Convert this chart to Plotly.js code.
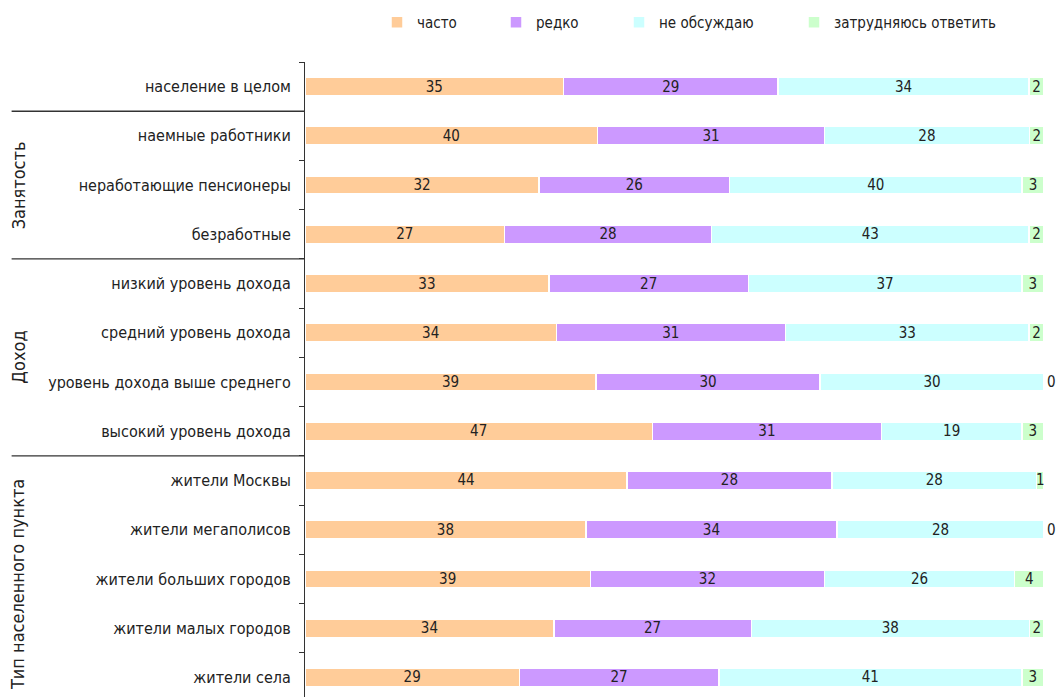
<!DOCTYPE html>
<html>
<head>
<meta charset="utf-8">
<script src="https://cdn.plot.ly/plotly-3.0.1.min.js"></script>
<style>
html,body{margin:0;padding:0;overflow:hidden;background:#fff;}
#chart{width:1056px;height:710px;}
</style>
</head>
<body>
<div id="chart"></div>
<script>
const categories = [
  "население в целом",
  "наемные работники",
  "неработающие пенсионеры",
  "безработные",
  "низкий уровень дохода",
  "средний уровень дохода",
  "уровень дохода выше среднего",
  "высокий уровень дохода",
  "жители Москвы",
  "жители мегаполисов",
  "жители больших городов",
  "жители малых городов",
  "жители села"
];
const seriesNames = ["часто", "редко", "не обсуждаю", "затрудняюсь ответить"];
const often    = [35, 40, 32, 27, 33, 34, 39, 47, 44, 38, 39, 34, 29];
const rarely   = [29, 31, 26, 28, 27, 31, 30, 31, 28, 34, 32, 27, 27];
const never    = [34, 28, 40, 43, 37, 33, 30, 19, 28, 28, 26, 38, 41];
const unsure   = [2, 2, 3, 2, 3, 2, 0, 3, 1, 0, 4, 2, 3];
const groups = [
  {label: "Занятость", first: 1, last: 3},
  {label: "Доход", first: 4, last: 7},
  {label: "Тип населенного пункта", first: 8, last: 12}
];

const colors = ["#FFCC99", "#CC99FF", "#CCFFFF", "#CCFFCC"];
const FONT = "DejaVu Sans Condensed, Liberation Sans Narrow, sans-serif";
const seriesValues = [often, rarely, never, unsure];
const legendX = [397, 516, 639, 814];

const traces = seriesValues.map((vals, i) => ({
  type: "bar",
  orientation: "h",
  name: seriesNames[i],
  x: vals,
  y: categories,
  text: vals.map(String),
  legend: i === 0 ? "legend" : "legend" + (i + 1),
  marker: {color: colors[i], line: {color: "#ffffff", width: 1.5}},
  texttemplate: "%{text}",
  textposition: vals.map(v => v === 0 ? "outside" : "inside"),
  insidetextanchor: "middle",
  constraintext: "none",
  textangle: 0,
  cliponaxis: false,
  textfont: {family: FONT, size: 15, color: "#222"},
  hoverinfo: "text+y+name"
}));

const layout = {
  width: 1056,
  height: 710,
  margin: {l: 305, r: 12, t: 62, b: 8},
  barmode: "stack",
  barnorm: "percent",
  bargap: 0.63,
  paper_bgcolor: "#ffffff",
  plot_bgcolor: "#ffffff",
  font: {family: FONT, size: 15, color: "#222"},
  showlegend: true,
  xaxis: {
    range: [0, 100],
    visible: false,
    fixedrange: true
  },
  yaxis: {
    type: "category",
    range: [12.5, -0.5],
    tickson: "boundaries",
    ticks: "outside",
    ticklen: 5,
    tickcolor: "#333",
    tickwidth: 1,
    showline: true,
    linecolor: "#333",
    linewidth: 1,
    showgrid: false,
    zeroline: false,
    ticklabelstandoff: 10,
    tickfont: {family: FONT, size: 16, color: "#222"},
    fixedrange: true
  },
  shapes: [],
  annotations: []
};

seriesNames.forEach((n, i) => {
  const key = i === 0 ? "legend" : "legend" + (i + 1);
  layout[key] = {
    xref: "container",
    yref: "container",
    x: (legendX[i] - 20) / 1056,
    y: 1 - 6 / 710,
    xanchor: "left",
    yanchor: "top",
    orientation: "h",
    bgcolor: "rgba(0,0,0,0)",
    itemwidth: 30,
    font: {family: FONT, size: 15, color: "#222"}
  };
});

// group separators and labels
const sepPositions = groups.map(g => g.first - 0.5);
sepPositions.forEach(p => {
  layout.shapes.push({
    type: "line", xref: "paper", yref: "y",
    x0: -0.397, x1: 0, y0: p, y1: p,
    line: {color: "#333", width: 1.3}
  });
});
groups.forEach(g => {
  layout.annotations.push({
    xref: "paper", yref: "y",
    x: -0.388, y: (g.first + g.last) / 2 + (g.last === 12 ? 0.12 : 0),
    text: g.label, textangle: -90, showarrow: false,
    xanchor: "center", yanchor: "middle",
    font: {family: FONT, size: 18, color: "#222"}
  });
});

Plotly.newPlot("chart", traces, layout, {displayModeBar: false});
</script>
</body>
</html>
